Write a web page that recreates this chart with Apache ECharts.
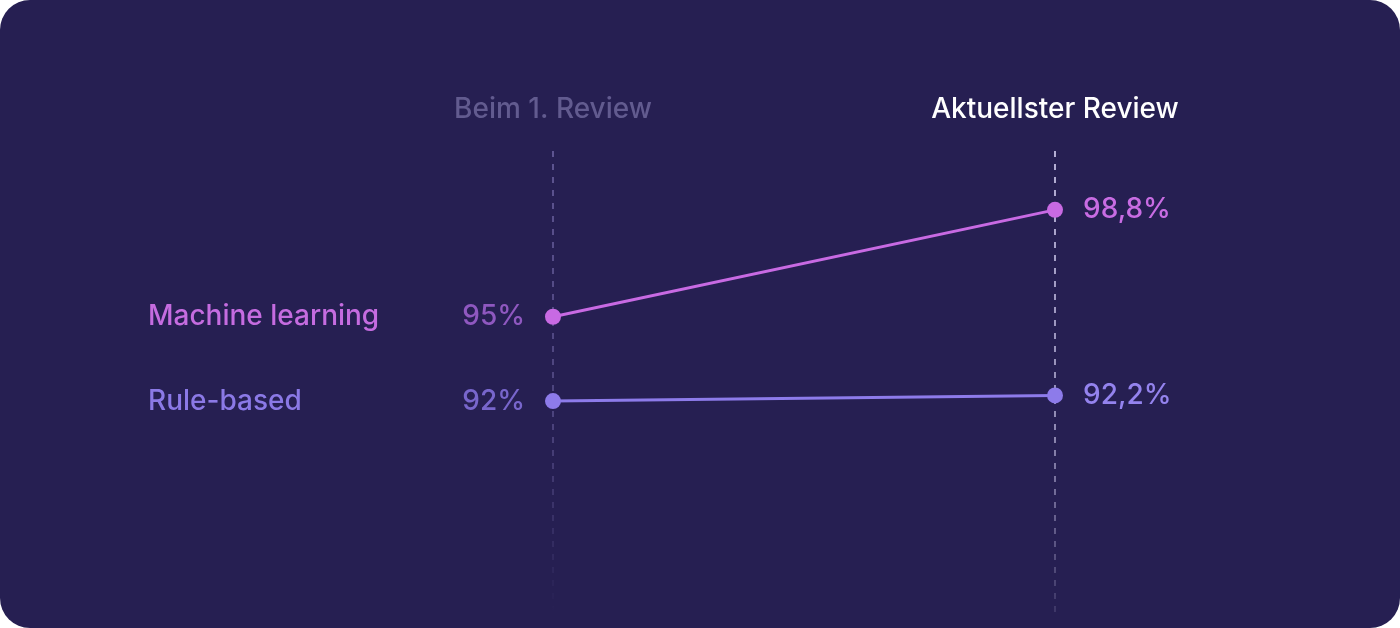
<!DOCTYPE html>
<html>
<head>
<meta charset="utf-8">
<script src="https://cdn.jsdelivr.net/npm/echarts@6/dist/echarts.min.js"></script>
<style>
  html, body { margin: 0; padding: 0; background: #ffffff; }
  #chart { width: 1400px; height: 628px; background: #261f52; border-radius: 30px; overflow: hidden; }
</style>
</head>
<body>
<div id="chart"></div>
<script>
// data
const categories = ['Beim 1. Review', 'Aktuellster Review'];
const seriesNames = ['Machine learning', 'Rule-based'];
const mlValues = [95, 98.8];
const ruleValues = [92, 92.2];

const FONT = 'Inter';
const FS = 28;
const FW = 500;
const fmt = function (v) { return String(v).replace('.', ',') + '%'; };

const chart = echarts.init(document.getElementById('chart'));

const fade = function (r, g, b, a0, a1) {
  return new echarts.graphic.LinearGradient(0, 0, 0, 1, [
    { offset: 0, color: `rgba(${r},${g},${b},${a0})` },
    { offset: 0.6, color: `rgba(${r},${g},${b},${(a0 + a1) / 2 + 0.15})` },
    { offset: 1, color: `rgba(${r},${g},${b},${a1})` }
  ]);
};

// one line series: name + first value on the left, last value on the right
const makeSeries = function (name, values, lineColor, nameColor, firstColor, lastColor) {
  return {
    name: name,
    type: 'line',
    symbol: 'circle',
    symbolSize: 16,
    z: 3,
    lineStyle: { color: lineColor, width: 3 },
    itemStyle: { color: lineColor },
    data: values.map((v, i) => ({
      value: v,
      label: i === 0 ? {
        show: true,
        position: 'left',
        distance: 20,
        formatter: `{n|${name}}{v|${fmt(v)}}`,
        rich: {
          n: { width: 307, align: 'left', color: nameColor, fontSize: FS, fontWeight: FW, fontFamily: FONT },
          v: { width: 70, align: 'right', color: firstColor, fontSize: FS, fontWeight: FW, fontFamily: FONT }
        }
      } : {
        show: true,
        position: 'right',
        distance: 20,
        formatter: fmt(v),
        color: lastColor,
        fontSize: FS,
        fontWeight: FW,
        fontFamily: FONT
      }
    }))
  };
};

const ml = makeSeries(seriesNames[0], mlValues, '#c86ae3', '#c56ce0', '#8f58c0', '#c86ce3');
const rule = makeSeries(seriesNames[1], ruleValues, '#8d7bea', '#8b79e6', '#7866cc', '#9483ee');

// the two dashed review markers
ml.markLine = {
  silent: true,
  symbol: 'none',
  label: { show: false },
  z: 1,
  data: [
    { xAxis: 0, lineStyle: { color: fade(112, 102, 165, 0.95, 0.0), type: [6, 7], width: 1.6 } },
    { xAxis: 1, lineStyle: { color: fade(205, 200, 235, 0.95, 0.15), type: [6, 7], width: 1.8 } }
  ]
};

chart.setOption({
  backgroundColor: 'transparent',
  animation: false,
  grid: { left: 553, right: 345, top: 148, height: 464 },
  xAxis: {
    type: 'category',
    position: 'top',
    boundaryGap: false,
    data: categories,
    axisLine: { show: false },
    axisTick: { show: false },
    splitLine: { show: false },
    axisLabel: {
      fontSize: FS,
      fontWeight: FW,
      fontFamily: FONT,
      margin: 24,
      color: (val) => val === categories[0] ? '#625b8f' : '#ffffff'
    }
  },
  yAxis: {
    type: 'value',
    min: 84.5,
    max: 101,
    show: false
  },
  series: [ml, rule]
});
</script>
</body>
</html>
